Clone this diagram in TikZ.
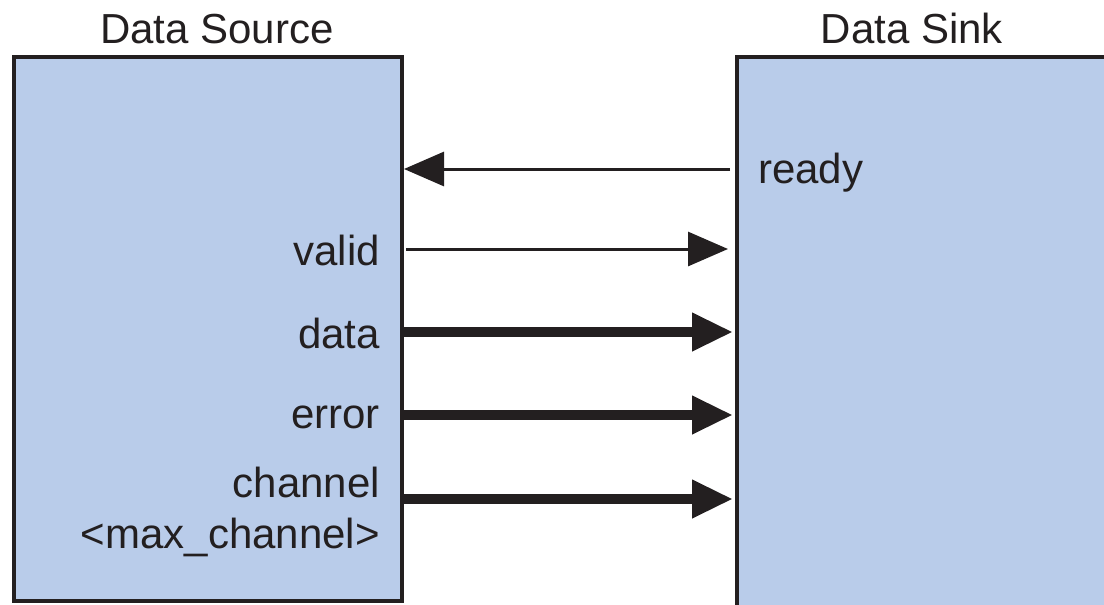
\documentclass[tikz,border=0pt]{standalone}
\usepackage{fontspec}
\setmainfont{Liberation Sans}
\usetikzlibrary{arrows.meta}
\definecolor{boxblue}{HTML}{B9CCEA}
\definecolor{ink}{HTML}{231F20}
\tikzset{  block/.style={draw=ink,line width=3.5pt,fill=boxblue,inner sep=0pt,outer sep=0pt},
  lbl/.style={text=ink,inner sep=0pt,font=\fontsize{42}{51}\selectfont},
  thinsig/.style={draw=ink,line width=3pt,-{Triangle[length=40pt,width=34pt]}},
  bussig/.style={draw=ink,line width=10pt,-{Triangle[length=41pt,width=36pt]}} }

\begin{document}
\begin{tikzpicture}[x=1pt,y=-1pt]
   \useasboundingbox (0,0) rectangle (1104,605);
   \node[block,minimum width=388pt,minimum height=544pt] (src) at (208,329) {};
   \node[block,minimum width=383pt,minimum height=563pt] (snk) at (928.5,338.5) {};
   \node[lbl,anchor=base] (srctitle) at (217,43) {Data Source};
   \node[lbl,anchor=base] (snktitle) at (912,43) {Data Sink};
   \node[lbl,anchor=base west] (ready) at (758,183) {ready};
   \node[lbl,anchor=base east] (valid) at (380,265) {valid};
   \node[lbl,anchor=base east] (data) at (380,348) {data};
   \node[lbl,anchor=base east] (error) at (380,428) {error};
   \node[lbl,anchor=base east,align=right] (channel) at (380,548) {channel\\<max\_channel>};
   \draw[thinsig,shorten <=7pt,shorten >=2pt] (snk.west |- 0,169) -- (src.east |- 0,169);
   \draw[thinsig,shorten <=4pt,shorten >=9pt] (src.east |- 0,249) -- (snk.west |- 0,249);
   \draw[bussig,shorten >=4pt] (src.east |- 0,332) -- (snk.west |- 0,332);
   \draw[bussig,shorten >=4pt] (src.east |- 0,415) -- (snk.west |- 0,415);
   \draw[bussig,shorten >=4pt] (src.east |- 0,499) -- (snk.west |- 0,499);
\end{tikzpicture}
\end{document}
